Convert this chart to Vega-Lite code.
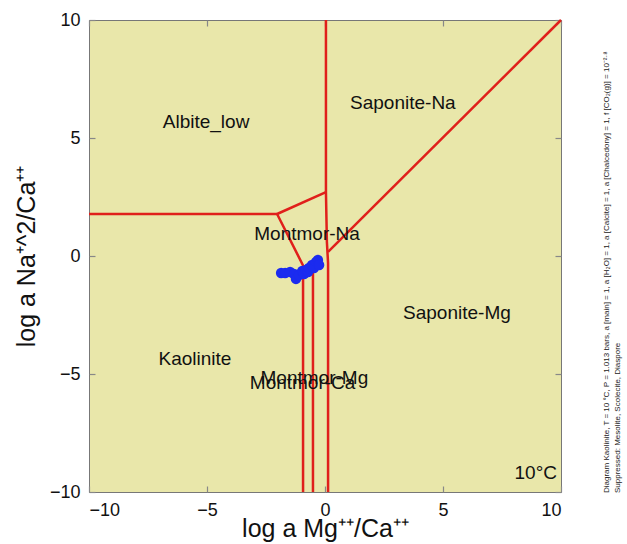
{
  "$schema": "https://vega.github.io/schema/vega-lite/v6.json",
  "width": 472,
  "height": 472,
  "autosize": "none",
  "padding": {"left": 89, "top": 20, "right": 66, "bottom": 52},
  "background": "white",
  "config": {
    "view": {"fill": "#E9E7AA", "stroke": "#777777", "strokeWidth": 1},
    "font": "Liberation Sans",
    "axis": {"grid": false, "domain": false, "labelFont": "Liberation Sans", "titleFont": "Liberation Sans", "labelColor": "#111", "titleColor": "#111", "titleFontWeight": "normal", "tickColor": "#888", "tickSize": 6, "offset": -6, "tickWidth": 1.2, "zindex": 1}
  },
  "title": {
    "text": ["Diagram Kaolinite, T = 10 °C, P = 1.013 bars, a [main] = 1, a [H₂O] = 1, a [Calcite] = 1, a [Chalcedony] = 1, f [CO₂(g)] = 10⁻²·⁸", "Suppressed: Mesolite, Scolecite, Diaspore"],
    "orient": "right",
    "angle": 270,
    "anchor": "end",
    "align": "left",
    "fontSize": 8,
    "fontWeight": "normal",
    "font": "Liberation Sans",
    "color": "#222",
    "offset": 18,
    "dx": 48,
    "lineHeight": 11
  },
  "datasets": {
    "lines": [
      {"seg": "a", "ord": 1, "x": -10, "y": 1.78},
      {"seg": "a", "ord": 2, "x": -2.03, "y": 1.78},
      {"seg": "b", "ord": 1, "x": -2.03, "y": 1.78},
      {"seg": "b", "ord": 2, "x": 0.04, "y": 2.71},
      {"seg": "c", "ord": 1, "x": 0.04, "y": 10},
      {"seg": "c", "ord": 2, "x": 0.04, "y": 2.71},
      {"seg": "c", "ord": 3, "x": 0.08, "y": 0.6},
      {"seg": "c", "ord": 4, "x": 0.13, "y": -0.3},
      {"seg": "c", "ord": 5, "x": 0.13, "y": -10},
      {"seg": "d", "ord": 1, "x": 0.13, "y": 0.17},
      {"seg": "d", "ord": 2, "x": 10, "y": 10},
      {"seg": "e", "ord": 1, "x": -2.03, "y": 1.78},
      {"seg": "e", "ord": 2, "x": -0.93, "y": -0.4},
      {"seg": "e", "ord": 3, "x": -0.93, "y": -10},
      {"seg": "f", "ord": 1, "x": -0.51, "y": -0.5},
      {"seg": "f", "ord": 2, "x": -0.51, "y": -10}
    ],
    "points": [
      {"x": -1.86, "y": -0.72},
      {"x": -1.69, "y": -0.72},
      {"x": -1.48, "y": -0.68},
      {"x": -1.31, "y": -0.76},
      {"x": -1.23, "y": -0.97},
      {"x": -1.1, "y": -0.81},
      {"x": -0.97, "y": -0.64},
      {"x": -0.89, "y": -0.76},
      {"x": -0.81, "y": -0.59},
      {"x": -0.72, "y": -0.68},
      {"x": -0.68, "y": -0.51},
      {"x": -0.55, "y": -0.38},
      {"x": -0.47, "y": -0.51},
      {"x": -0.38, "y": -0.25},
      {"x": -0.3, "y": -0.17},
      {"x": -0.25, "y": -0.38}
    ],
    "labels": [
      {"x": -5.04, "y": 5.68, "t": "Albite_low"},
      {"x": 3.3, "y": 6.5, "t": "Saponite-Na"},
      {"x": -0.76, "y": 0.93, "t": "Montmor-Na"},
      {"x": 5.59, "y": -2.42, "t": "Saponite-Mg"},
      {"x": -5.51, "y": -4.36, "t": "Kaolinite"},
      {"x": -0.95, "y": -5.4, "t": "Montmor-Ca"},
      {"x": -0.45, "y": -5.15, "t": "Montmor-Mg"}
    ]
  },
  "layer": [
    {
      "data": {"name": "lines"},
      "mark": {"type": "line", "color": "#E0201B", "strokeWidth": 2.5},
      "encoding": {
        "x": {"field": "x", "type": "quantitative", "scale": {"domain": [-10, 10], "nice": false, "zero": false},
              "axis": {"orient": "bottom", "values": [-10, -5, 0, 5, 10], "labelFontSize": 18, "labelPadding": 9, "title": "log a Mg⁺⁺/Ca⁺⁺", "titleFontSize": 25, "titlePadding": -3, "labelExpr": "replace(datum.label, '-', '−')"}},
        "y": {"field": "y", "type": "quantitative", "scale": {"domain": [-10, 10], "nice": false, "zero": false},
              "axis": {"orient": "left", "values": [-10, -5, 0, 5, 10], "labelFontSize": 18, "labelPadding": 9, "title": "log a Na⁺^2/Ca⁺⁺", "titleFontSize": 25, "titlePadding": 10, "labelExpr": "replace(datum.label, '-', '−')"}},
        "detail": {"field": "seg"},
        "order": {"field": "ord", "type": "quantitative"}
      }
    },
    {
      "data": {"name": "points"},
      "mark": {"type": "circle", "color": "#1B2BEF", "opacity": 1, "size": 110},
      "encoding": {
        "x": {"field": "x", "type": "quantitative", "axis": {"orient": "top", "values": [-10, -5, 0, 5, 10], "labels": false, "title": null}},
        "y": {"field": "y", "type": "quantitative", "axis": {"orient": "right", "values": [-10, -5, 0, 5, 10], "labels": false, "title": null}}
      }
    },
    {
      "data": {"name": "labels"},
      "mark": {"type": "text", "fontSize": 19, "color": "#111", "baseline": "middle", "align": "center", "font": "Liberation Sans"},
      "encoding": {
        "x": {"field": "x", "type": "quantitative", "axis": null},
        "y": {"field": "y", "type": "quantitative", "axis": null},
        "text": {"field": "t"}
      }
    },
    {
      "data": {"values": [{"x": 9.83, "y": -9.19, "t": "10°C"}]},
      "mark": {"type": "text", "fontSize": 19, "color": "#111", "baseline": "middle", "align": "right", "font": "Liberation Sans"},
      "encoding": {
        "x": {"field": "x", "type": "quantitative", "axis": null},
        "y": {"field": "y", "type": "quantitative", "axis": null},
        "text": {"field": "t"}
      }
    }
  ],
  "resolve": {"axis": {"x": "independent", "y": "independent"}}
}
